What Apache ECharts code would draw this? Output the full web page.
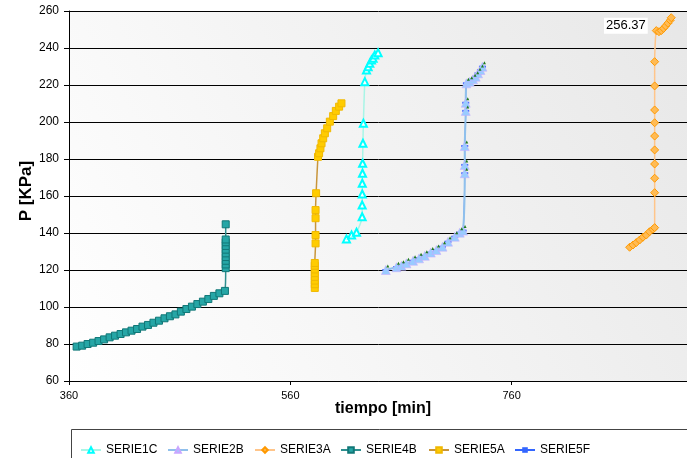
<!DOCTYPE html>
<html>
<head>
<meta charset="utf-8">
<script src="https://cdn.jsdelivr.net/npm/echarts@6/dist/echarts.min.js"></script>
<style>
  html, body { margin: 0; padding: 0; background: #fff; }
  #chart-container { width: 687px; height: 458px; }
</style>
</head>
<body>
<div id="chart-container"></div>
<script>
// tick values
const xTicks = [360, 560, 760, 960];
const yTicks = [60, 80, 100, 120, 140, 160, 180, 200, 220, 240, 260];

// [tiempo, P]
const serie1C = [
  [610.7, 136.8], [615.3, 138.9], [619.8, 140.4], [624.9, 148.8], [624.9, 155.1],
  [625.0, 161.1], [625.0, 166.9], [625.2, 172.3], [625.3, 177.7], [625.6, 188.5],
  [626.0, 199.3], [627.3, 221.8], [628.8, 228.1], [630.3, 229.9], [631.8, 231.7],
  [633.3, 233.5], [634.8, 234.4], [636.3, 236.2], [639.3, 237.5]
];
const serie2B = [
  [646.3, 120.0], [655.9, 121.5], [660.4, 122.3], [664.9, 123.6], [670.9, 125.0],
  [676.3, 126.3], [681.5, 127.7], [686.9, 129.4], [692.0, 130.8], [697.5, 132.6],
  [702.5, 135.3], [708.6, 138.0], [713.1, 140.2], [716.1, 141.3], [717.6, 172.3],
  [717.6, 176.8], [717.6, 187.0], [718.5, 206.0], [718.5, 210.4], [719.1, 220.9],
  [722.1, 221.8], [725.1, 223.1], [727.5, 224.5], [729.6, 226.3], [731.8, 228.1],
  [733.6, 229.9]
];
const serie3A = [
  [866.6, 132.3], [869.6, 133.5], [872.6, 134.8], [875.6, 136.2], [878.6, 137.7],
  [881.6, 138.9], [884.6, 140.7], [887.6, 142.0], [889.2, 142.9], [889.2, 161.8],
  [889.2, 169.6], [889.2, 177.3], [889.2, 184.9], [889.2, 192.4], [889.2, 199.6],
  [889.2, 206.5], [889.2, 219.5], [889.2, 232.6], [890.7, 249.4], [893.1, 248.8],
  [895.2, 249.4], [897.3, 250.6], [899.1, 251.9], [901.2, 253.4], [903.3, 255.0],
  [904.2, 256.37]
];
const serie4B = [
  [366.9, 78.6], [371.9, 79.1], [376.8, 80.0], [381.8, 80.7], [386.7, 81.6],
  [391.7, 82.5], [396.7, 83.6], [401.6, 84.5], [406.6, 85.4], [411.5, 86.3],
  [416.5, 87.2], [421.5, 88.1], [426.4, 89.4], [431.4, 90.3], [436.3, 91.5],
  [441.3, 92.6], [446.3, 93.9], [451.2, 95.0], [456.2, 96.0], [461.1, 97.5],
  [466.1, 98.9], [471.1, 100.2], [476.0, 101.6], [481.0, 102.9], [485.9, 104.3],
  [490.9, 106.0], [495.9, 107.4], [500.9, 108.7], [501.6, 121.0], [501.6, 123.0],
  [501.6, 125.0], [501.6, 127.0], [501.6, 129.0], [501.6, 131.0], [501.6, 133.0],
  [501.6, 135.0], [501.6, 136.5], [501.6, 144.7]
];
const serie5A = [
  [582.1, 110.3], [582.1, 112.3], [582.1, 114.3], [582.1, 116.3], [582.1, 118.3],
  [582.1, 120.3], [582.1, 122.3], [582.1, 123.8], [582.8, 134.4], [582.8, 138.9],
  [582.8, 148.0], [582.8, 152.4], [583.3, 161.5], [585.0, 181.2], [586.0, 183.1],
  [587.2, 185.8], [588.2, 188.5], [589.7, 191.2], [591.2, 193.9], [593.3, 196.6],
  [595.7, 200.2], [598.7, 203.2], [601.1, 206.0], [604.1, 208.3], [606.2, 210.1]
];
const serie5F = serie2B;
const serieNames = ["SERIE1C", "SERIE2B", "SERIE3A", "SERIE4B", "SERIE5A", "SERIE5F"];
const labelValue = 256.37;

const dom = document.getElementById("chart-container");
const myChart = echarts.init(dom, null, { renderer: "canvas" });

const font = "Liberation Sans, Arial, sans-serif";

const lastLabel = (data) => data.map((d, i) => {
  if (i !== data.length - 1) return d;
  return {
    value: d,
    label: {
      show: true,
      position: "left",
      formatter: String(labelValue),
      color: "#000",
      fontSize: 13,
      fontFamily: font,
      backgroundColor: "#fff",
      padding: [2, 2, 1, 2],
      offset: [-14, 8],
    },
  };
});

const legendLefts = [75, 162, 249, 335, 423, 509];

const option = {
  backgroundColor: "#fff",
  animation: false,
  textStyle: { fontFamily: font },
  grid: {
    left: 69,
    top: 11,
    width: 664,
    height: 370,
    outerBoundsMode: "none",
    containLabel: false,
    show: true,
    borderWidth: 0,
    backgroundColor: new echarts.graphic.LinearGradient(0, 1, 1, 0, [
      { offset: 0, color: "#ffffff" },
      { offset: 1, color: "#e6e6e6" },
    ]),
  },
  legend: serieNames.map((n, i) => ({
    data: [n],
    left: legendLefts[i],
    top: 439,
    itemWidth: 20,
    itemHeight: 7,
    itemGap: 4,
    textStyle: { fontSize: 12, color: "#000", fontFamily: font },
    selectedMode: false,
  })),
  graphic: [
    {
      type: "rect",
      shape: { x: 71.5, y: 429.5, width: 700, height: 40 },
      style: { fill: "none", stroke: "#444", lineWidth: 1 },
      z: 0,
    },
  ],
  xAxis: {
    type: "value",
    min: xTicks[0],
    max: xTicks[xTicks.length - 1],
    interval: xTicks[1] - xTicks[0],
    name: "tiempo [min]",
    nameLocation: "middle",
    nameGap: 20,
    nameMoveOverlap: false,
    nameTextStyle: { fontSize: 16, fontWeight: "bold", color: "#000", padding: [0, 36, 0, 0] },
    axisLine: { lineStyle: { color: "#000", width: 1 } },
    axisTick: { show: true, length: 4, lineStyle: { color: "#000" } },
    axisLabel: { fontSize: 11, color: "#000", margin: 9 },
    splitLine: { show: false },
  },
  yAxis: {
    type: "value",
    min: yTicks[0],
    max: yTicks[yTicks.length - 1],
    interval: yTicks[1] - yTicks[0],
    name: "P [KPa]",
    nameLocation: "middle",
    nameGap: 34,
    nameMoveOverlap: false,
    nameTextStyle: { fontSize: 17, fontWeight: "bold", color: "#000", padding: [0, 0, 0, 10] },
    axisLine: { show: true, lineStyle: { color: "#000", width: 1 } },
    axisTick: { show: true, length: 5, lineStyle: { color: "#000" } },
    axisLabel: { fontSize: 12, color: "#000", margin: 10 },
    splitLine: { show: true, lineStyle: { color: "#000", width: 1 } },
  },
  series: [
    {
      name: "SERIE1C",
      type: "line",
      data: serie1C,
      smooth: 0.2,
      symbol: "emptyTriangle",
      symbolSize: 7,
      color: "#00ffff",
      itemStyle: { color: "#00ffff", borderWidth: 1.4 },
      lineStyle: { color: "#a8f5e6", width: 1.5 },
      z: 3,
    },
    {
      name: "SERIE5F",
      type: "line",
      data: serie5F,
      smooth: 0.2,
      symbol: "rect",
      symbolSize: [7, 2],
      color: "#3366ff",
      lineStyle: { color: "#3366ff", width: 1 },
      z: 2,
    },
    {
      name: "SERIE2B",
      type: "line",
      data: serie2B,
      smooth: 0.2,
      symbol: "triangle",
      symbolSize: 9,
      color: "#99ccff",
      itemStyle: { color: "#99ccff", borderColor: "#c9a6ff", borderWidth: 0.5 },
      lineStyle: { color: "#8fc0ec", width: 2 },
      z: 3,
    },
    {
      name: "SERIE2B-top",
      type: "line",
      data: serie2B,
      symbol: "triangle",
      symbolSize: 3,
      symbolOffset: [2, -4],
      itemStyle: { color: "#1f7a1f" },
      lineStyle: { opacity: 0 },
      z: 4,
    },
    {
      name: "SERIE3A",
      type: "line",
      data: lastLabel(serie3A),
      smooth: 0.2,
      symbol: "diamond",
      symbolSize: 8,
      color: "#ff9900",
      itemStyle: { color: "#ffbb55", borderColor: "#ff9900", borderWidth: 1 },
      lineStyle: { color: "#ffc58a", width: 1.5 },
      z: 3,
    },
    {
      name: "SERIE4B",
      type: "line",
      data: serie4B,
      smooth: 0.2,
      symbol: "rect",
      symbolSize: 7,
      color: "#1f9e9e",
      itemStyle: { color: "#26a6a6", borderColor: "#117777", borderWidth: 1 },
      lineStyle: { color: "#2f8f8f", width: 1.5 },
      z: 3,
    },
    {
      name: "SERIE5A",
      type: "line",
      data: serie5A,
      smooth: 0.2,
      symbol: "rect",
      symbolSize: 7,
      color: "#ffcc00",
      itemStyle: { color: "#ffcc00", borderColor: "#f0b800", borderWidth: 1 },
      lineStyle: { color: "#c8953a", width: 1.5 },
      z: 3,
    },
  ],
};

myChart.setOption(option);
window.addEventListener("resize", myChart.resize);
</script>
</body>
</html>
